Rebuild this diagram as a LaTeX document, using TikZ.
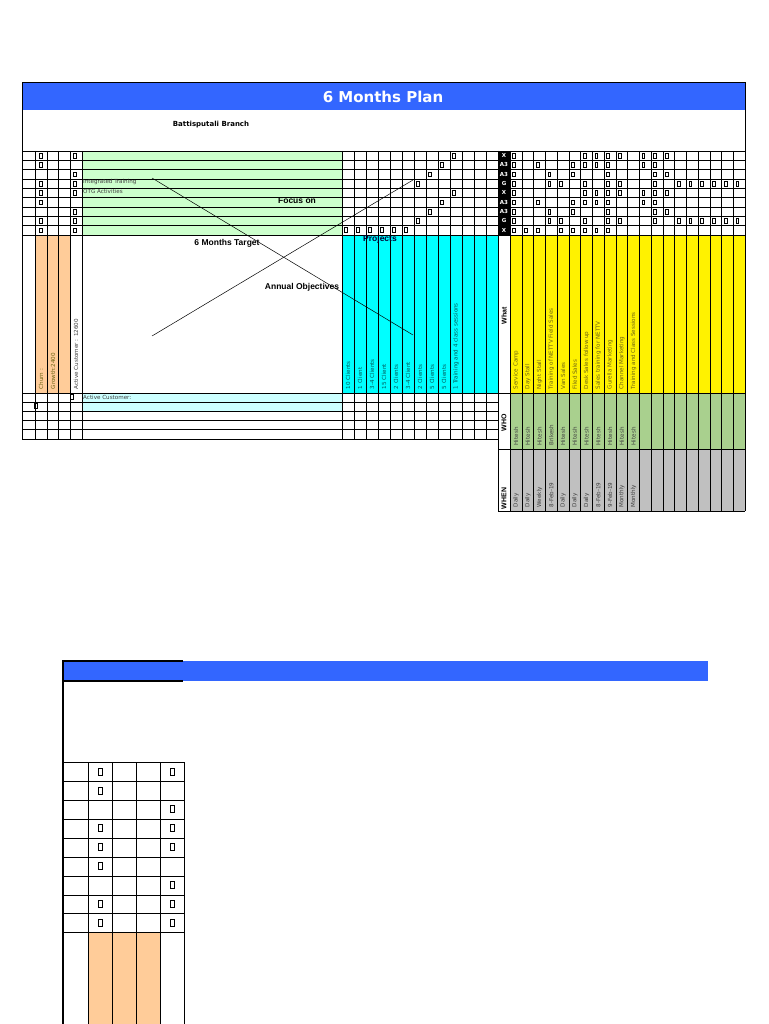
\documentclass[tikz,border=0pt]{standalone}
\usepackage{fontspec}
\setmainfont{DejaVu Sans}
\newfontfamily\arialfont{Liberation Sans}
\definecolor{planblue}{RGB}{51,102,255}
\definecolor{focusgreen}{RGB}{204,255,204}
\definecolor{churnorange}{RGB}{255,204,153}
\definecolor{projcyan}{RGB}{0,255,255}
\definecolor{lightcyan}{RGB}{204,255,255}
\definecolor{whogreen}{RGB}{169,208,142}
\definecolor{whengray}{RGB}{192,192,192}
\definecolor{txtolive}{RGB}{110,100,20}
\tikzset{
  grid line/.style={draw=black, line width=0.5pt},
  mk/.style={draw, line width=0.5pt, minimum width=2.6pt, minimum height=4.6pt, inner sep=0pt},
  bigmk/.style={draw, line width=0.6pt, minimum width=3.6pt, minimum height=7pt, inner sep=0pt},
  vtext/.style={rotate=90, anchor=west, inner sep=0.5pt, font=\fontsize{5.6}{6}\selectfont, text=txtolive},
  lbl/.style={font=\arialfont\bfseries\fontsize{8.5}{9}\selectfont},
  blk/.style={text=white, font=\bfseries\fontsize{5.5}{6}\selectfont, inner sep=0pt},
}
\begin{document}
\begin{tikzpicture}[x=1pt,y=-1pt]
\useasboundingbox (0,0) rectangle (768,1024);
% fills
\fill[planblue] (22,82) rectangle (745,110);
\fill[focusgreen] (82,151) rectangle (342,235);
\fill[churnorange] (35,235) rectangle (70,393);
\fill[projcyan] (342,235) rectangle (498,393);
\fill[yellow] (510,235) rectangle (745,393);
\fill[black] (498,151) rectangle (510,235);
\fill[lightcyan] (82,393) rectangle (342,411);
\fill[whogreen] (510,393) rectangle (745,449);
\fill[whengray] (510,449) rectangle (745,511);
\node[text=white, font=\bfseries\fontsize{15}{16}\selectfont] (title) at (383,97) {6 Months Plan};
\node[font=\bfseries\fontsize{7}{8}\selectfont] (branch) at (211,125) {Battisputali Branch};
\draw[grid line] (22,82) rectangle (745,151);
% top rows
\foreach \r in {0,...,9}
  \draw[grid line] (22,{151+9.333*\r}) -- (745,{151+9.333*\r});
\foreach \x in {22,35,47,58,70,82,342}
  \draw[grid line] (\x,151) -- (\x,439);
\foreach \k in {1,...,13}
  \draw[grid line] ({342+12*\k},151) -- ({342+12*\k},439);
\draw[grid line] (498,151) -- (498,511);
\foreach \k in {0,...,20}
  \draw[grid line] ({510+11.75*\k},151) -- ({510+11.75*\k},511);
\draw[grid line] (22,393) -- (745,393);
\foreach \y in {402,411,420,429,439}
  \draw[grid line] (22,\y) -- (498,\y);
\draw[grid line] (498,449) -- (745,449);
\draw[grid line] (498,511) -- (745,511);
% markers
\foreach \r in {1,2,4,5,6,8,9}
  \node[mk] at (41,{146.3+9.333*\r}) {};
\foreach \r in {1,3,4,5,7,8,9}
  \node[mk] at (75,{146.3+9.333*\r}) {};
\foreach \r/\x in {1/454,2/442,3/430,4/418,5/454,6/442,7/430,8/418}
  \node[mk] at (\x,{146.3+9.333*\r}) {};
\foreach \x in {346,358,...,406}
  \node[mk] at (\x,230) {};
\foreach \r/\cols in {1/{0,6,7,8,9,11,12,13},2/{0,2,5,6,7,8,11,12},3/{0,3,5,8,12,13},4/{0,3,4,6,8,9,12,14,15,16,17,18,19},
  5/{0,6,7,8,9,11,12,13},6/{0,2,5,6,7,8,11,12},7/{0,3,5,8,12,13},8/{0,3,4,6,8,9,12,14,15,16,17,18,19},9/{0,1,2,4,5,6,7,8}}
  \foreach \k in \cols
    \node[mk] at ({514+11.75*\k},{146.3+9.333*\r}) {};
\foreach \r/\t in {1/X,2/A3,3/A3,4/G,5/X,6/A3,7/A3,8/G,9/X}
  \node[blk] at (504,{146.3+9.333*\r}) {\t};
\node[mk] at (72,397) {};
\node[mk] at (36,406) {};
% texts
\node[anchor=west, inner sep=0pt, font=\fontsize{5.6}{6}\selectfont, text=black!75] (integ) at (83,182) {Integrated Training};
\node[anchor=west, inner sep=0pt, font=\fontsize{5.6}{6}\selectfont, text=black!75] (otg) at (83,191.5) {OTG Activities};
\node[anchor=west, inner sep=0pt, font=\fontsize{5.6}{6}\selectfont, text=black!75] (actc) at (83,397.5) {Active Customer:};
\node[vtext] at (41,390) {Churn :};
\node[vtext] at (53,390) {Growth:2400};
\node[vtext, text=black!75] at (76,390) {Active Customer : 12600};
\foreach \t [count=\i from 0] in {10 Clients,1 Client,3-4 Clients,15 Client,2 Clients,3-4 Client,2 Clients,5 Clients,5 Clients,1 Training and 4 class sessions}
  \node[vtext, text=teal!70!black] at ({348+12*\i},390) {\t};
\foreach \t [count=\i from 0] in {Service Camp,Day Stall,Night Stall,Training of NETTV Field Sales,Van Sales,Filed Sales,Desk Sales follow up,Sales training for NETTV,Gurella Marketing,Channel Marketing,Training and Class Sessions}
  \node[vtext] at ({516+11.75*\i},390) {\t};
\foreach \t [count=\i from 0] in {Hitesh,Hitesh,Hitesh,Brikesh,Hitesh,Hitesh,Hitesh,Hitesh,Hitesh,Hitesh,Hitesh}
  \node[vtext, text=black!75] at ({516+11.75*\i},446) {\t};
\foreach \t [count=\i from 0] in {Daily,Daily,Weekly,8-Feb-19,Daily,Daily,Daily,8-Feb-19,9-Feb-19,Monthly,Monthly}
  \node[vtext, text=black!75] at ({516+11.75*\i},508) {\t};
\node[vtext, text=black, font=\arialfont\bfseries\fontsize{7}{8}\selectfont] at (504,325) {What};
\node[vtext, text=black, font=\arialfont\bfseries\fontsize{7}{8}\selectfont] at (504,432) {WHO};
\node[vtext, text=black, font=\arialfont\bfseries\fontsize{7}{8}\selectfont] at (504,510) {WHEN};
% labels and crossing lines
\coordinate (l1a) at (152,336); \coordinate (l1b) at (413,180);
\coordinate (l2a) at (152,178); \coordinate (l2b) at (413,335);
\draw[line width=0.5pt] (l1a) -- (l1b);
\draw[line width=0.5pt] (l2a) -- (l2b);
\node[lbl] (focus) at (297,201) {Focus on};
\node[lbl] (target) at (227,243) {6 Months Target};
\node[lbl, text=black!80!blue] (proj) at (380,239) {Projects};
\node[lbl] (annual) at (302,287) {Annual Objectives};
% lower sheet
\fill[planblue] (62,661) rectangle (708,681);
\fill[churnorange] (88,932) rectangle (160,1024);
\foreach \y in {762,781,800,819,838,857,876,895,913,932}
  \draw[grid line] (63,\y) -- (184,\y);
\foreach \x in {88,112,136,160,184}
  \draw[grid line] (\x,762) -- (\x,1024);
\draw[line width=1.5pt] (183,661) -- (63,661) -- (63,1024);
\draw[line width=1.5pt] (63,681) -- (183,681);
\foreach \r in {1,2,4,5,6,8,9}
  \node[bigmk] at (100,{752.5+18.9*\r}) {};
\foreach \r in {1,3,4,5,7,8,9}
  \node[bigmk] at (172,{752.5+18.9*\r}) {};
\end{tikzpicture}
\end{document}
